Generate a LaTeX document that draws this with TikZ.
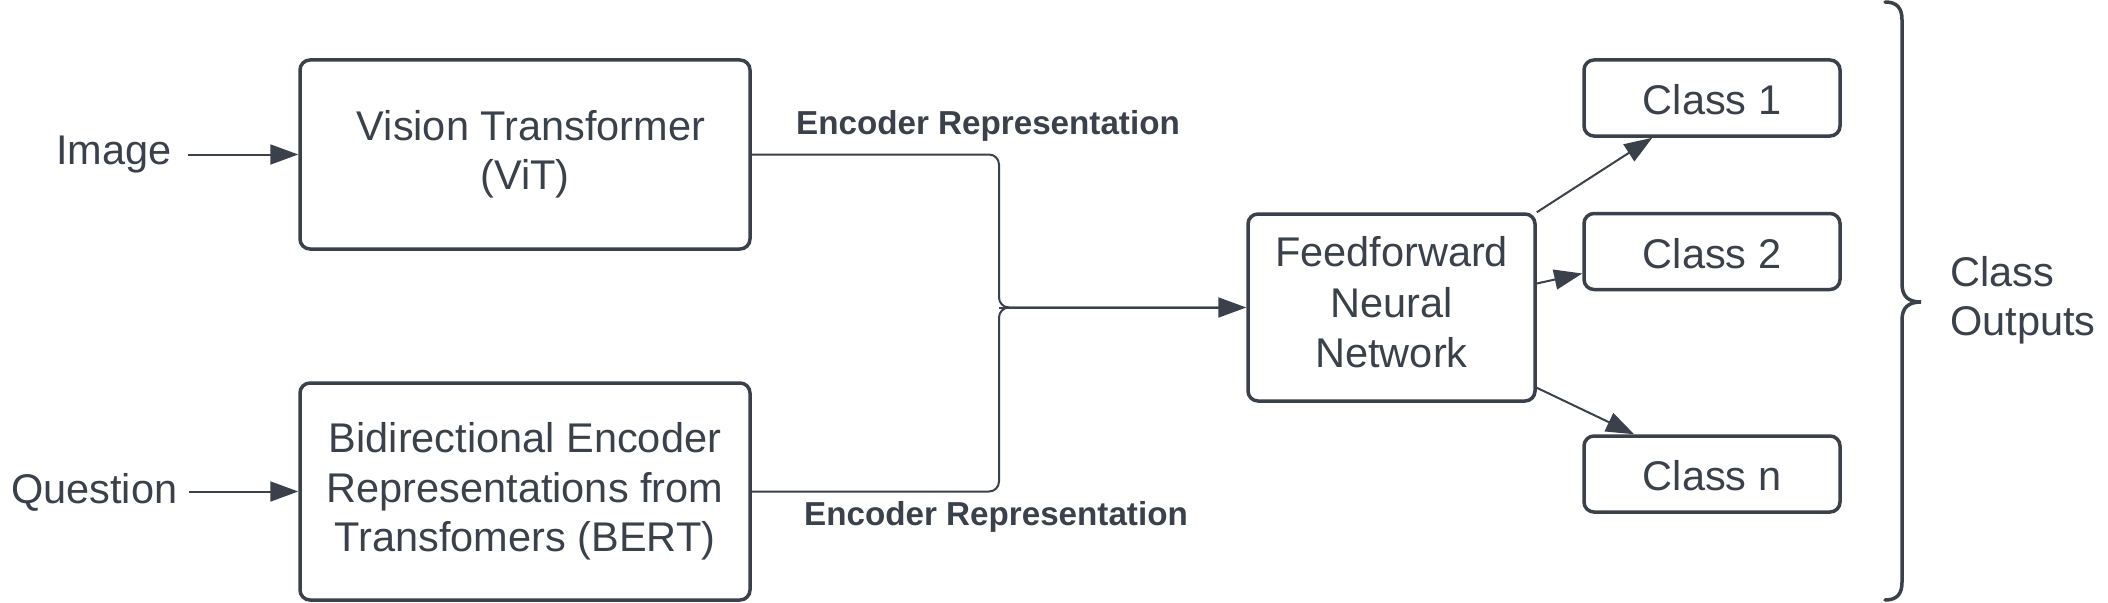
\documentclass[tikz,border=0pt]{standalone}
\usepackage{fontspec}
\setmainfont{Liberation Sans}
\usetikzlibrary{arrows.meta,calc}
\definecolor{ink}{HTML}{3A414A}
\newcommand\mainfs{\fontsize{41.5}{49.5}\selectfont}
\newcommand\labfs{\fontsize{33.2}{40}\selectfont\bfseries}
\newcommand\lift[2]{\raisebox{#1}[\height][\depth]{#2}}
\begin{document}
\begin{tikzpicture}[x=1pt,y=-1pt,
  box/.style={draw=ink, line width=3.5pt, rounded corners=10pt, align=center, text=ink, font=\mainfs, inner sep=0pt},
  plain/.style={text=ink, font=\mainfs, inner sep=0pt},
  elabel/.style={text=ink, font=\labfs, inner sep=0pt},
  conn/.style={draw=ink, line width=2pt, -{Triangle[length=28pt,width=20pt]}},
  joinline/.style={draw=ink, line width=2pt, rounded corners=10pt}]
\useasboundingbox (0,0) rectangle (2108,602);

\node[box, minimum width=450pt, minimum height=189pt] (vit) at (525,154.5) {\hspace*{12pt}Vision Transformer\\(ViT)};
\node[box, minimum width=450pt, minimum height=217pt] (bert) at (525,491.5) {Bidirectional Encoder\\Representations from\\Transfomers (BERT)};
\node[box, minimum width=287pt, minimum height=187pt] (ffnn) at (1391.5,307.5) {\lift{0pt}{\begin{tabular}{@{}c@{}}Feedforward\\[1pt]Neural\\[1pt]Network\end{tabular}}};
\node[box, minimum width=256pt, minimum height=76pt] (c1) at (1712,98) {\lift{-2pt}{Class 1}};
\node[box, minimum width=256pt, minimum height=76pt] (c2) at (1712,251.5) {\lift{-2pt}{Class 2}};
\node[box, minimum width=256pt, minimum height=76pt] (cn) at (1712,474) {\lift{-2pt}{Class n}};

\node[plain, anchor=east] (img) at (172,155) {Image};
\node[plain, anchor=east] (q) at (177.5,492) {Question};

\node[elabel] (l1) at (988,126) {Encoder Representation};
\node[elabel] (l2) at (996,517) {Encoder Representation};

\node[plain, anchor=west, align=left, font=\mainfs] (co) at (1950,300.5) {Class\\Outputs};

\draw[conn, shorten <=16pt] (img.east |- vit.west) -- (vit.west);
\draw[conn, shorten <=11.5pt] (q.east |- bert.west) -- (bert.west);

\coordinate (mx) at (999,307.5);
\draw[joinline] (vit.east) -| (mx) -- ([xshift=-25pt]ffnn.west);
\draw[joinline] (bert.east) -| (mx) -- ([xshift=-25pt]ffnn.west);
\draw[conn] (mx) -- (ffnn.west);

\draw[conn] (ffnn.north east) -- ($(c1.south west)!0.27!(c1.south east)$);
\draw[conn] ([yshift=24pt]ffnn.east) -- ([yshift=-22pt]c2.west);
\draw[conn] ([yshift=15pt]ffnn.south east) -- ($(cn.north west)!0.2!(cn.north east)$);

\draw[ink, line width=3.5pt, line cap=round]
  (1885,2) .. controls (1897,2) and (1902,8) .. (1902,20) -- (1902,284)
  .. controls (1902,296) and (1908,302) .. (1921,302)
  .. controls (1908,302) and (1902,308) .. (1902,320) -- (1902,582)
  .. controls (1902,594) and (1897,600) .. (1885,600);
\end{tikzpicture}
\end{document}
